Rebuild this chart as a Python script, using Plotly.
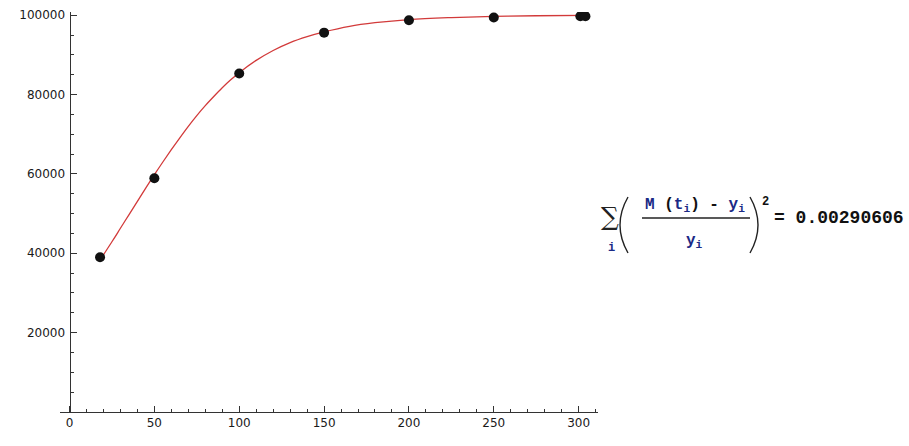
import plotly.graph_objects as go

# Observed data points
t_obs = [18, 50, 100, 150, 200, 250, 301, 304]
y_obs = [39000, 58900, 85300, 95600, 98700, 99400, 99750, 99750]

# Fitted model curve M(t)
t_fit = [18, 25, 30, 35, 40, 45, 50, 55, 60, 65, 70, 75, 80, 85, 90, 95, 100, 110, 120, 130,
         140, 150, 165, 180, 200, 225, 250, 275, 304]
y_fit = [38300, 42900, 46300, 49700, 53100, 56500, 59800, 63000, 66100, 69100, 72000, 74700,
         77200, 79500, 81700, 83700, 85500, 88600, 91100, 93100, 94600, 95800, 97200, 98100,
         98900, 99400, 99700, 99850, 99930]

x_ticks = [0, 50, 100, 150, 200, 250, 300]
y_ticks = [20000, 40000, 60000, 80000, 100000]
y_tick_text = ["20000", "40000", "60000", "80000", "100000"]

W, H = 909, 446
L, R, T, B = 60, 598, 12, 412  # plot area in pixels


def px(x):
    return (x - L) / (R - L)


def py(y):
    return (B - y) / (B - T)


fig = go.Figure()
fig.add_trace(go.Scatter(x=t_fit, y=y_fit, mode="lines", line_shape="spline",
                         line=dict(color="#d23a3a", width=1.3), hoverinfo="skip"))
fig.add_trace(go.Scatter(x=t_obs, y=y_obs, mode="markers",
                         marker=dict(color="#111111", size=10)))

axis_font = dict(family="DejaVu Sans", size=12, color="#1a1a1a")
fig.update_layout(
    width=W, height=H, showlegend=False,
    paper_bgcolor="white", plot_bgcolor="white",
    margin=dict(l=L, r=W - R, t=T, b=H - B, pad=0, autoexpand=False),
    xaxis=dict(range=[-5.6, 311.4], tickvals=x_ticks, ticks="inside", ticklen=6,
               tickcolor="#333", showline=True, linecolor="#333", linewidth=1,
               showgrid=False, zeroline=False, tickfont=axis_font, automargin=False,
               minor=dict(dtick=10, tick0=0, ticks="inside", ticklen=3, tickcolor="#333")),
    yaxis=dict(range=[0, 100800], tickvals=y_ticks, ticktext=y_tick_text,
               ticks="inside", ticklen=6,
               tickcolor="#333", showline=True, linecolor="#333", linewidth=1,
               showgrid=False, zeroline=False, tickfont=axis_font, automargin=False,
               anchor="free", position=px(69.5), ticklabelstandoff=2,
               minor=dict(dtick=5000, tick0=0, ticks="inside", ticklen=3, tickcolor="#333")),
)

navy = "#1b2a86"
mono = "Liberation Mono"

def ann(x, y, text, size, xanchor="center", family=mono, color="#111"):
    fig.add_annotation(x=px(x), y=py(y), xref="paper", yref="paper", text=text,
                       showarrow=False, xanchor=xanchor, yanchor="middle",
                       font=dict(family=family, size=size, color=color), borderpad=0)

ann(610, 216, "∑", 25, family="DejaVu Serif", color="#222")
ann(611, 248, "<b>i</b>", 12, color=navy)
num = (f"<b><span style='color:{navy}'>M</span> (<span style='color:{navy}'>t</span>"
       f"<sub><span style='color:{navy}'>i</span></sub>) - "
       f"<span style='color:{navy}'>y</span><sub><span style='color:{navy}'>i</span></sub></b>")
ann(695, 205, num, 16)
ann(694, 241, f"<b><span style='color:{navy}'>y</span><sub><span style='color:{navy}'>i</span></sub></b>", 16)
ann(765, 202, "<b>2</b>", 12)
ann(773, 218, "<b>= 0.00290606</b>", 18, xanchor="left", color="#111")

# fraction bar
fig.add_shape(type="line", xref="paper", yref="paper", x0=px(642), x1=px(750),
              y0=py(218), y1=py(218), line=dict(color="#222", width=1.5))
# big parentheses
for (xe, xc) in [(628, 612), (750, 766)]:
    path = f"M {px(xe)},{py(197)} Q {px(xc)},{py(225)} {px(xe)},{py(253)}"
    fig.add_shape(type="path", xref="paper", yref="paper", path=path,
                  line=dict(color="#222", width=1.4))

fig.write_html("out.html", config={"displayModeBar": False},
               post_script="document.body.style.margin='0';document.body.style.padding='0';document.body.style.overflow='hidden';")
